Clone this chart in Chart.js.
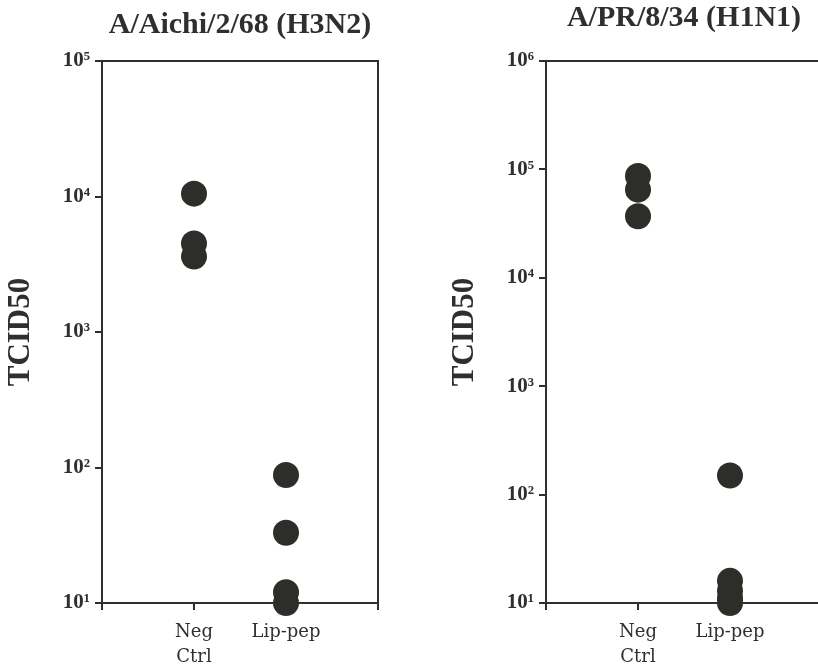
<!DOCTYPE html>
<html>
<head>
<meta charset="utf-8">
<script src="https://cdn.jsdelivr.net/npm/chart.js@4.4.1/dist/chart.umd.min.js"></script>
<style>
  html, body { margin: 0; padding: 0; background: #fff; overflow: hidden; }
  #wrap { position: relative; width: 818px; height: 672px; overflow: hidden; }
  canvas { position: absolute; top: 0; }
  #aichiChart { left: 0; }
  #prChart { left: 444px; }
</style>
</head>
<body>
<div id="wrap">
  <canvas id="aichiChart" width="410" height="672"></canvas>
  <canvas id="prChart" width="410" height="672"></canvas>
</div>
<script>
// categories on the x axis (positions 1 and 2, axis runs 0..3)
const categories = ['Neg Ctrl', 'Lip-pep'];
const xTickValues = [0, 1, 2, 3];
const xTickLabels = ['', ['Neg', 'Ctrl'], 'Lip-pep', ''];

// A/Aichi/2/68 (H3N2)
const aichiNegCtrl = [10500, 4500, 3600];
const aichiLipPep = [88, 33, 12, 10];
const aichiTickValues = [10, 100, 1000, 10000, 100000];
const aichiTickLabels = ['10¹', '10²', '10³', '10⁴', '10⁵'];

// A/PR/8/34 (H1N1)
const prNegCtrl = [87000, 65000, 37000];
const prLipPep = [150, 16, 13, 11, 10];
const prTickValues = [10, 100, 1000, 10000, 100000, 1000000];
const prTickLabels = ['10¹', '10²', '10³', '10⁴', '10⁵', '10⁶'];

const ink = '#2f2f2f';
const dotColor = '#2d2d2a';

// top + right frame line
const framePlugin = {
  id: 'frame',
  beforeDatasetsDraw(chart) {
    const a = chart.chartArea;
    const ctx = chart.ctx;
    ctx.save();
    ctx.strokeStyle = ink;
    ctx.lineWidth = 2;
    ctx.beginPath();
    ctx.moveTo(a.left, a.top);
    ctx.lineTo(a.right, a.top);
    ctx.lineTo(a.right, a.bottom);
    ctx.stroke();
    ctx.restore();
  }
};

function createPanel(element, title, titleTop, negValues, lipValues, tickValues, tickLabels) {
  const points = [];
  negValues.forEach(v => points.push({ x: 1, y: v }));
  lipValues.forEach(v => points.push({ x: 2, y: v }));

  const ctx = document.getElementById(element).getContext('2d');
  return new Chart(ctx, {
    type: 'scatter',
    data: {
      datasets: [{
        label: title,
        data: points,
        backgroundColor: dotColor,
        borderColor: dotColor,
        borderWidth: 0,
        pointRadius: 13,
        pointHoverRadius: 13,
        clip: false
      }]
    },
    options: {
      responsive: false,
      animation: false,
      events: [],
      layout: { padding: { left: 0, right: 32, top: 0, bottom: 0 } },
      plugins: {
        legend: { display: false },
        tooltip: { enabled: false },
        title: {
          display: true,
          fullSize: false,
          text: title,
          color: ink,
          font: { family: '"Liberation Serif", "Times New Roman", serif', size: 30, weight: 'bold', lineHeight: 1.2 },
          padding: { top: titleTop, bottom: 25 - titleTop }
        }
      },
      scales: {
        x: {
          type: 'linear',
          min: 0,
          max: 3,
          afterBuildTicks: (scale) => { scale.ticks = xTickValues.map(v => ({ value: v })); },
          afterFit: (scale) => { scale.height = 69; },
          grid: { display: true, drawOnChartArea: false, drawTicks: true, tickLength: 7, lineWidth: 2, color: ink },
          border: { display: true, width: 2, color: ink },
          ticks: {
            autoSkip: false,
            maxRotation: 0,
            padding: 10,
            color: ink,
            font: { family: '"DejaVu Serif", serif', size: 18, lineHeight: 1.4 },
            callback: (value, index) => xTickLabels[index]
          }
        },
        y: {
          type: 'logarithmic',
          min: tickValues[0],
          max: tickValues[tickValues.length - 1],
          afterBuildTicks: (scale) => { scale.ticks = tickValues.map(v => ({ value: v })); },
          afterFit: (scale) => { scale.width = 102; },
          grid: { display: true, drawOnChartArea: false, drawTicks: true, tickLength: 7, lineWidth: 2, color: ink },
          border: { display: true, width: 2, color: ink },
          title: {
            display: true,
            text: 'TCID50',
            color: ink,
            font: { family: '"Liberation Serif", "Times New Roman", serif', size: 31, weight: 'bold' },
            padding: { top: 2, bottom: 0 }
          },
          ticks: {
            autoSkip: false,
            padding: 5,
            color: ink,
            font: { family: '"Liberation Serif", "Times New Roman", serif', size: 21, weight: 'bold' },
            callback: (value, index) => tickLabels[index]
          }
        }
      }
    },
    plugins: [framePlugin]
  });
}

createPanel('aichiChart', 'A/Aichi/2/68 (H3N2)', 7, aichiNegCtrl, aichiLipPep, aichiTickValues, aichiTickLabels);
createPanel('prChart', 'A/PR/8/34 (H1N1)', 0, prNegCtrl, prLipPep, prTickValues, prTickLabels);
</script>
</body>
</html>
